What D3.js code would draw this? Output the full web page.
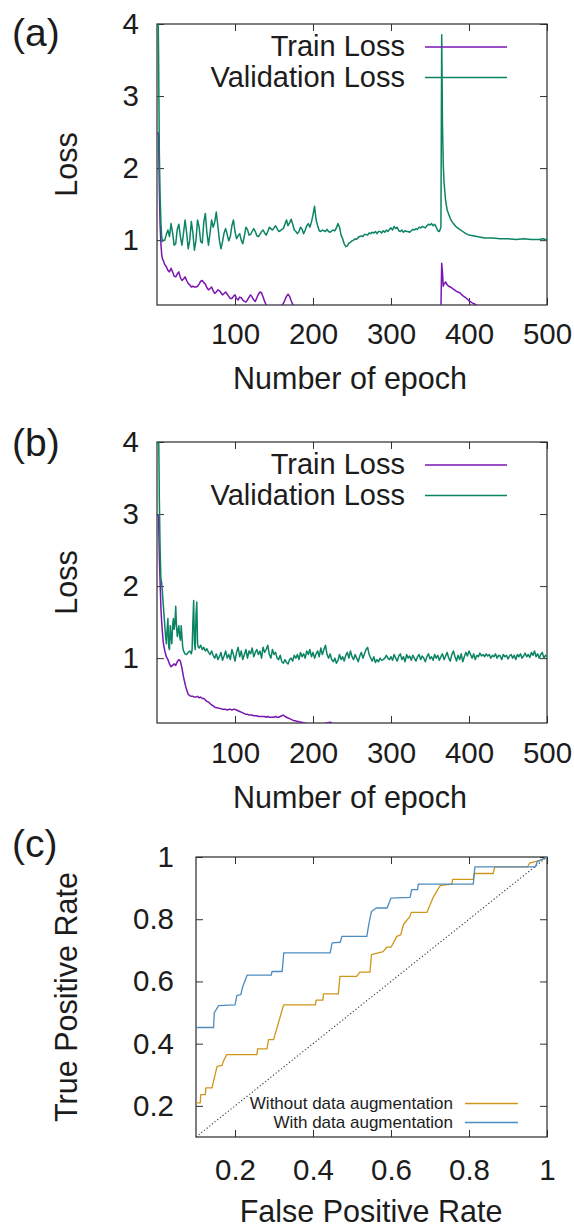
<!DOCTYPE html>
<html><head><meta charset="utf-8">
<script src="https://cdn.jsdelivr.net/npm/d3@7"></script>
<style>
html,body{margin:0;padding:0;background:#fff;}
svg{display:block;}
text{font-family:"Liberation Sans",Arial,Helvetica,sans-serif;fill:#1c1c1c;}
</style>
</head><body>
<svg id="c" width="574" height="1231"></svg>
<script>
// ---------------- DATA ----------------
// Panel (a)
const valAEpochsEarly = [1,2,3,4,5,6,7,8];
const valALossEarly   = [4.6,3.6,2.2,1.6,1.25,1.05,0.98,1.0];
const valALossMid = [ // epochs 10..364 step 2
 1.00,1.08,1.14,1.05,1.23,1.10,0.93,0.95,1.15,1.22,
 1.05,0.93,1.10,1.28,1.10,0.88,1.00,1.26,1.10,0.86,
 1.00,1.28,1.18,0.98,0.96,1.25,1.37,1.10,0.93,1.10,
 1.28,1.18,1.25,1.39,1.20,1.00,0.88,0.98,1.10,1.16,
 1.08,0.99,1.05,1.20,1.28,1.12,1.02,1.06,1.09,1.00,
 0.95,1.06,1.18,1.15,1.07,1.08,1.12,1.16,1.12,1.06,
 1.05,1.08,1.12,1.14,1.10,1.07,1.12,1.18,1.16,1.14,
 1.17,1.20,1.16,1.12,1.13,1.15,1.16,1.22,1.28,1.20,
 1.24,1.29,1.22,1.14,1.12,1.09,1.12,1.18,1.15,1.09,
 1.14,1.20,1.23,1.18,1.25,1.35,1.47,1.28,1.20,1.13,
 1.12,1.14,1.13,1.12,1.15,1.12,1.11,1.13,1.14,1.13,
 1.17,1.23,1.18,1.07,1.02,0.95,0.91,0.92,0.96,0.97,
 0.99,1.00,1.02,1.01,1.04,1.05,1.06,1.05,1.08,1.08,
 1.07,1.10,1.09,1.11,1.10,1.12,1.09,1.12,1.12,1.10,
 1.13,1.11,1.14,1.12,1.15,1.17,1.14,1.19,1.16,1.18,
 1.13,1.12,1.14,1.11,1.13,1.12,1.12,1.11,1.13,1.15,
 1.14,1.16,1.15,1.18,1.17,1.19,1.18,1.17,1.20,1.22,
 1.21,1.23,1.20,1.22,1.18,1.13,1.12,1.18];
const valAEpochsLate = [365,366,367,368,370,372,374,376,378,380,384,388,392,396,400,405,410,415,420,430,440,450,460,470,480,490,495,500];
const valALossLate   = [3.85,2.6,2.05,1.8,1.55,1.42,1.36,1.3,1.26,1.23,1.18,1.15,1.12,1.09,1.07,1.06,1.05,1.04,1.03,1.03,1.02,1.02,1.01,1.02,1.01,1.01,1.02,1.0];

const trainAEpochsEarly = [1,2,3,4,5,6,7];
const trainALossEarly   = [2.5,2.45,1.7,1.2,0.95,0.8,0.74];
const trainALossMid = [ // epochs 8..140 step 2
 0.72,0.66,0.63,0.58,0.56,0.61,0.56,0.50,0.49,0.53,
 0.56,0.48,0.44,0.46,0.49,0.44,0.40,0.38,0.35,0.36,
 0.35,0.35,0.36,0.39,0.43,0.44,0.41,0.39,0.34,0.31,
 0.33,0.35,0.30,0.26,0.28,0.31,0.30,0.27,0.24,0.26,
 0.28,0.25,0.22,0.19,0.19,0.22,0.24,0.19,0.17,0.21,
 0.20,0.17,0.15,0.14,0.17,0.21,0.24,0.21,0.17,0.15,
 0.20,0.25,0.28,0.27,0.21,0.15,0.10];
const trainAEpochsLate = [142,146,152,158,162,164,166,168,170,172,174,176,182,200,250,300,362,364,365,366,367,368,370,372,374,376,380,384,388,392,396,400,404,408,412,420,460,500];
const trainALossLate   = [0.07,0.05,0.06,0.08,0.12,0.17,0.22,0.25,0.22,0.16,0.11,0.08,0.05,0.04,0.03,0.03,0.02,0.03,0.68,0.55,0.36,0.39,0.42,0.38,0.36,0.35,0.32,0.29,0.27,0.23,0.20,0.16,0.13,0.11,0.08,0.05,0.03,0.02];

// Panel (b)
const valBEpochsEarly = [1,2,3,4,5,6,7,8,9,10,11,12,13,14,15,16,17,18,19,20,21,22,23,24,25,26,27,28,29,30,31,32,33,34,36,38,40,42,44,45,46,47,48,49,50,51,52,53];
const valBLossEarly   = [4.8,4.3,3.2,2.5,2.1,2.05,1.9,1.75,1.6,1.45,1.3,1.2,1.4,1.55,1.15,1.12,1.45,1.3,1.2,1.45,1.55,1.4,1.48,1.72,1.45,1.3,1.38,1.45,1.3,1.25,1.45,1.3,1.15,1.1,1.06,1.05,1.08,1.1,1.06,1.12,1.5,1.8,1.2,1.12,1.6,1.78,1.2,1.15];
const valBLossLate = [ // epochs 54..500 step 2
 1.14,1.18,1.12,1.15,1.10,1.13,1.08,1.05,1.10,1.04,
 1.00,1.06,0.98,1.02,1.08,0.97,1.03,1.10,1.00,1.05,
 0.98,1.12,1.05,0.96,1.08,1.15,1.02,1.10,0.98,1.05,
 1.12,1.00,1.10,1.06,1.14,1.02,1.08,1.12,1.05,1.10,
 1.00,1.15,1.08,1.12,1.18,1.05,1.00,1.12,1.05,1.08,
 1.00,0.98,1.04,0.95,0.93,0.98,0.94,0.92,0.98,1.00,
 0.96,1.04,1.00,1.05,0.98,1.08,1.02,1.06,1.00,1.10,
 1.05,1.12,1.02,1.08,1.00,1.06,1.10,1.02,1.14,1.05,
 1.12,1.18,1.05,1.00,1.06,0.98,0.95,1.00,0.93,0.97,
 1.05,0.98,1.02,0.96,1.04,1.08,1.00,1.10,1.02,0.98,
 1.05,1.00,0.95,1.03,1.08,1.00,1.06,1.12,1.15,1.05,
 1.00,0.96,1.02,0.94,0.98,0.95,1.00,0.97,0.98,1.00,
 1.04,1.00,0.98,1.02,0.97,1.05,1.00,0.96,1.03,1.06,
 0.98,1.02,0.95,1.05,1.00,1.03,0.97,1.04,1.00,0.96,
 1.02,1.05,0.98,1.03,1.00,0.95,1.02,1.06,0.99,1.02,
 0.97,1.05,1.00,1.04,0.97,1.02,1.06,0.98,1.03,1.08,
 1.00,0.96,1.05,1.10,1.02,0.96,1.04,0.98,1.06,0.95,
 1.02,1.08,1.03,1.10,1.05,1.00,1.06,0.98,1.04,1.02,
 1.07,1.03,1.05,1.02,1.06,1.03,1.05,1.00,1.04,1.02,
 1.06,1.00,1.04,1.03,0.98,1.05,1.02,1.04,0.99,1.03,
 1.05,1.00,1.04,0.98,1.05,1.02,1.06,1.00,1.03,1.07,
 1.02,1.05,1.01,1.08,1.04,1.10,1.02,1.06,1.00,1.05,
 1.08,1.00,1.04,1.02];

const trainBEpochsEarly = [1,2,3,4,5,6,7,8];
const trainBLossEarly   = [3.0,2.95,2.4,2.05,1.7,1.5,1.35,1.22];
const trainBLossMid = [ // epochs 10..200 step 2
 1.10,1.02,0.98,0.92,0.88,0.90,0.92,0.90,0.95,0.98,
 0.96,0.86,0.74,0.64,0.56,0.50,0.48,0.47,0.47,0.46,
 0.46,0.47,0.45,0.46,0.44,0.44,0.42,0.40,0.39,0.37,
 0.35,0.34,0.32,0.31,0.31,0.30,0.30,0.29,0.29,0.29,
 0.28,0.29,0.29,0.28,0.29,0.29,0.28,0.27,0.26,0.25,
 0.24,0.23,0.22,0.22,0.21,0.21,0.21,0.20,0.20,0.20,
 0.19,0.19,0.19,0.19,0.19,0.18,0.19,0.18,0.18,0.18,
 0.18,0.19,0.18,0.18,0.19,0.20,0.21,0.19,0.18,0.17,
 0.16,0.15,0.14,0.13,0.13,0.12,0.12,0.11,0.11,0.10,
 0.10,0.09,0.09,0.08,0.08,0.08];
const trainBEpochsLate = [210,218,222,226,240,300,400,500];
const trainBLossLate   = [0.08,0.10,0.11,0.09,0.07,0.05,0.04,0.03];

// Panel (c) ROC
const rocWithFpr = [0.100,0.145,0.147,0.158,0.200,0.205,0.215,0.220,0.231,0.293,0.295,0.321,0.325,0.444,0.449,0.470,0.474,0.538,0.544,0.550,0.562,0.590,0.600,0.649,0.653,0.668,0.670,0.811,0.815,0.970,0.975,1.000];
const rocWithTpr = [0.452,0.452,0.500,0.522,0.525,0.555,0.558,0.584,0.620,0.620,0.632,0.632,0.692,0.692,0.724,0.726,0.745,0.745,0.790,0.825,0.836,0.836,0.868,0.870,0.895,0.895,0.913,0.913,0.968,0.968,0.985,1.000];
const rocWithoutFpr = [0.100,0.111,0.112,0.124,0.125,0.141,0.154,0.167,0.170,0.179,0.256,0.258,0.282,0.286,0.299,0.321,0.325,0.406,0.408,0.425,0.427,0.465,0.469,0.512,0.520,0.546,0.550,0.580,0.589,0.600,0.615,0.625,0.632,0.649,0.652,0.692,0.700,0.708,0.726,0.756,0.758,0.811,0.813,0.862,0.866,0.950,0.955,0.985,1.000];
const rocWithoutTpr = [0.210,0.210,0.236,0.236,0.258,0.258,0.327,0.330,0.343,0.365,0.365,0.383,0.383,0.413,0.413,0.509,0.525,0.525,0.540,0.540,0.560,0.560,0.616,0.616,0.630,0.630,0.686,0.696,0.710,0.710,0.745,0.750,0.783,0.810,0.822,0.822,0.846,0.870,0.908,0.913,0.928,0.928,0.947,0.947,0.968,0.968,0.980,0.990,1.000];
const diagonal = [0.1, 1.0];

const lossXTicks = [100,200,300,400,500];
const lossYTicks = [1,2,3,4];
const rocTicks = [0.2,0.4,0.6,0.8,1.0];
const rocTickLabels = ["0.2","0.4","0.6","0.8","1"];
const lossLegend = ["Train Loss","Validation Loss"];
const rocLegend = ["Without data augmentation","With data augmentation"];
const panelLabels = ["(a)","(b)","(c)"];

// ---------------- DRAW ----------------
const svg = d3.select("#c");
const C_TRAIN = "#7a16b0", C_VAL = "#0a8462", C_WITHOUT = "#d0961a", C_WITH = "#4d8cc0";
const FS = 29.5, FL = 30.5, FLEG = 29;

const zip = (xs, ys) => xs.map((v,i) => [v, ys[i]]);

function frame(x, y, xTicks, yTicks, xFmt, yFmt, xPad, yPad, id) {
  const [x0,x1] = x.range(), [y0,y1] = y.range();
  const g = svg.append("g");
  const ax = [
    g.append("g").attr("transform",`translate(0,${y0})`).call(d3.axisBottom(x).tickValues(xTicks).tickFormat(xFmt).tickSize(-7).tickPadding(xPad)),
    g.append("g").attr("transform",`translate(0,${y1})`).call(d3.axisTop(x).tickValues(xTicks).tickFormat("").tickSize(-7)),
    g.append("g").attr("transform",`translate(${x0},0)`).call(d3.axisLeft(y).tickValues(yTicks).tickFormat(yFmt).tickSize(-7).tickPadding(yPad)),
    g.append("g").attr("transform",`translate(${x1},0)`).call(d3.axisRight(y).tickValues(yTicks).tickFormat("").tickSize(-7))
  ];
  ax.forEach(a => {
    a.select(".domain").remove();
    a.selectAll("line").attr("stroke","#333").attr("stroke-width",1);
    a.selectAll("text").attr("font-size",FS).attr("fill","#1c1c1c");
    a.attr("font-family",null);
  });
  g.append("rect").attr("x",x0).attr("y",y1).attr("width",x1-x0).attr("height",y0-y1)
    .attr("fill","none").attr("stroke","#2a2a2a").attr("stroke-width",1.2);
  svg.append("clipPath").attr("id",id).append("rect")
    .attr("x",x0).attr("y",y1).attr("width",x1-x0).attr("height",y0-y1);
  return g;
}

function drawLine(pts, x, y, color, clip, w, dash) {
  const p = svg.append("path").datum(pts)
    .attr("d", d3.line().x(d=>x(d[0])).y(d=>y(d[1])))
    .attr("fill","none").attr("stroke",color).attr("stroke-width",w||1.5)
    .attr("stroke-linejoin","round")
    .attr("clip-path",`url(#${clip})`);
  if (dash) p.attr("stroke-dasharray",dash);
  return p;
}

function lossPanel(cfg) {
  const x = d3.scaleLinear().domain([0,500]).range([157,547]);
  const y = d3.scaleLinear().domain([0.1,4]).range([cfg.bottom, cfg.top]);
  frame(x, y, lossXTicks, lossYTicks, d=>String(d), d=>String(d), cfg.xPad, 18, cfg.id);
  drawLine(cfg.train, x, y, C_TRAIN, cfg.id);
  drawLine(cfg.val, x, y, C_VAL, cfg.id);
  const ly = [cfg.top + 32, cfg.top + 62.5];
  [C_TRAIN, C_VAL].forEach((c,i) => {
    svg.append("text").attr("x",405).attr("y",ly[i]).attr("text-anchor","end")
      .attr("font-size",FLEG).text(lossLegend[i]);
    svg.append("line").attr("x1",425).attr("x2",507).attr("y1",ly[i]-9).attr("y2",ly[i]-9)
      .attr("stroke",c).attr("stroke-width",1.4);
  });
  svg.append("text").attr("x",350).attr("y",cfg.xlabelY).attr("text-anchor","middle")
    .attr("font-size",FL).text("Number of epoch");
  svg.append("text").attr("transform",`translate(77,${(cfg.top+cfg.bottom)/2}) rotate(-90)`)
    .attr("text-anchor","middle").attr("font-size",FL).text("Loss");
  svg.append("text").attr("x",12).attr("y",cfg.labelY).attr("font-size",39).text(cfg.label);
}

lossPanel({
  top:24, bottom:305, xPad:18, xlabelY:389, labelY:46, label:panelLabels[0], id:"clipA",
  train: zip(trainAEpochsEarly, trainALossEarly)
          .concat(zip(d3.range(8,141,2), trainALossMid))
          .concat(zip(trainAEpochsLate, trainALossLate)),
  val: zip(valAEpochsEarly, valALossEarly)
          .concat(zip(d3.range(10,365,2), valALossMid))
          .concat(zip(valAEpochsLate, valALossLate))
});

lossPanel({
  top:442, bottom:723, xPad:19, xlabelY:808, labelY:456, label:panelLabels[1], id:"clipB",
  train: zip(trainBEpochsEarly, trainBLossEarly)
          .concat(zip(d3.range(10,201,2), trainBLossMid))
          .concat(zip(trainBEpochsLate, trainBLossLate)),
  val: zip(valBEpochsEarly, valBLossEarly)
          .concat(zip(d3.range(54,501,2), valBLossLate))
});

// ROC panel
(function(){
  const x = d3.scaleLinear().domain([0.1,1]).range([196,547]);
  const y = d3.scaleLinear().domain([0.1,1]).range([1137,857]);
  const fmt = d => rocTickLabels[rocTicks.indexOf(d)];
  frame(x, y, rocTicks, rocTicks, fmt, fmt, 22, 22, "clipC");
  drawLine(zip(diagonal, diagonal), x, y, "#2b3550", "clipC", 1.1, "1.2,2.2");
  drawLine(zip(rocWithoutFpr, rocWithoutTpr), x, y, C_WITHOUT, "clipC", 1.3);
  drawLine(zip(rocWithFpr, rocWithTpr), x, y, C_WITH, "clipC", 1.3);
  const ly = [1109, 1128];
  [C_WITHOUT, C_WITH].forEach((c,i) => {
    svg.append("text").attr("x",453).attr("y",ly[i]).attr("text-anchor","end")
      .attr("font-size",17).text(rocLegend[i]);
    svg.append("line").attr("x1",465).attr("x2",518).attr("y1",ly[i]-5.5).attr("y2",ly[i]-5.5)
      .attr("stroke",c).attr("stroke-width",1.3);
  });
  svg.append("text").attr("x",371).attr("y",1222).attr("text-anchor","middle")
    .attr("font-size",FL).text("False Positive Rate");
  svg.append("text").attr("transform",`translate(77,997) rotate(-90)`)
    .attr("text-anchor","middle").attr("font-size",FL).text("True Positive Rate");
  svg.append("text").attr("x",12).attr("y",857).attr("font-size",39).text(panelLabels[2]);
})();
</script>
</body></html>
